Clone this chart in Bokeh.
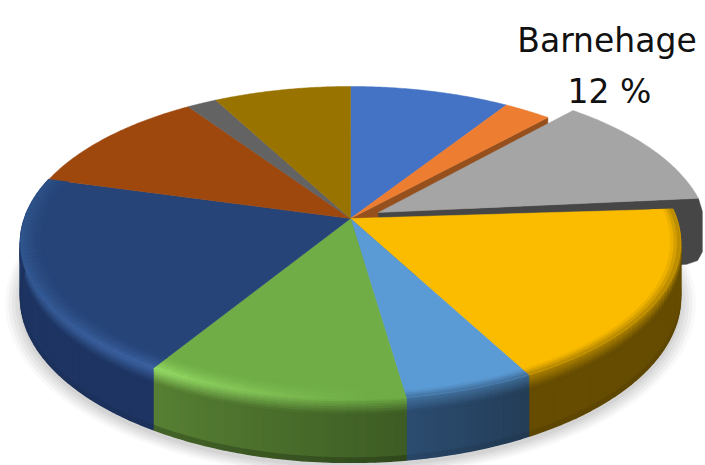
import numpy as np
from bokeh.plotting import figure
from bokeh.models import Range1d
from bokeh.embed import file_html
from bokeh.resources import INLINE
from bokeh.core.properties import value

# Data (share of each slice, clockwise from 12 o'clock)
slice_shares = [9.1, 2.7, 12.2, 18.2, 5.5, 11.1, 20.5, 11.2, 1.7, 7.8]
slice_colors = ["#4472C4", "#ED7D31", "#A5A5A5", "#FBBC00", "#5B9BD5",
                "#70AD47", "#264478", "#9E480E", "#636363", "#997300"]
side_left = [None, "#96501e", "#464646", "#654C00", "#2B4C70",
             "#578033", "#1E3563", None, None, None]
side_right = [None, "#96501e", "#464646", "#654C00", "#243D57",
              "#3D5C24", "#1E3563", None, None, None]
highlight_near = [None, None, None, None, None, "#A0E86E", "#3E64A4", None, None, None]
highlight_far = [None, None, None, None, None, "#70AD47", "#2C5288", None, None, None]
label_name = "Barnehage"
label_share = 12
exploded = 2

# Projection of the tilted disc
XA, YA = 350.0, 218.0
R, H, C, D = 326.0, 152.7, 0.1565, 53.0
EX, EY = 28.0, -6.0
TURN_START, TURN_END = np.radians(-0.7), np.radians(-1.8)


def proj(theta, r=1.0, dz=0.0, ox=0.0, oy=0.0, k=1.0):
    u = r * np.sin(theta)
    v = r * np.cos(theta)
    s = 1.0 / (1.0 + C * v)
    return XA + ox + R * u * s, YA + oy - H * v * s + dz * k * D * s


def rgb(h):
    return np.array([int(h[i:i + 2], 16) for i in (1, 3, 5)], float)


def mix(a, b, t):
    t = float(np.clip(t, 0, 1))
    c = rgb(a) * (1 - t) + rgb(b) * t
    return "#%02x%02x%02x" % tuple(int(round(x)) for x in c)


edges = np.radians(np.concatenate([[0], np.cumsum(slice_shares)]) * 3.6 * 100 / sum(slice_shares))

p = figure(width=705, height=465, output_backend="svg", toolbar_location=None,
           x_range=Range1d(0, 705), y_range=Range1d(465, 0),
           min_border=0, outline_line_color=None)
p.axis.visible = False
p.grid.visible = False
p.background_fill_color = "white"
p.border_fill_color = "white"

# Soft shadow
full = np.linspace(0, 2 * np.pi, 181)
for g, a in zip([1.045, 1.035, 1.025, 1.015, 1.005], [0.05, 0.07, 0.08, 0.09, 0.1]):
    x, y = proj(full, g, 1.0)
    p.patch(x, y + 4, fill_color="#808080", fill_alpha=a, line_color=None)


def wall(theta, color, ox=0.0, oy=0.0, k=1.0, lean=0.0):
    pts = [proj(theta, 0.0, 0.0, ox, oy, k), proj(theta, 1.0, 0.0, ox, oy, k)]
    if lean:
        pts += [proj(theta, 1.0, 0.2, ox + lean, oy, k),
                proj(theta, 1.0, 0.82, ox + lean, oy, k),
                proj(theta, 0.985, 0.95, ox + lean, oy, k),
                proj(theta, 0.95, 1.0, ox + lean, oy, k)]
    else:
        pts.append(proj(theta, 1.0, 1.0, ox, oy, k))
    pts.append(proj(theta, 0.0, 1.0, ox, oy, k))
    p.patch([q[0] for q in pts], [q[1] for q in pts],
            fill_color=color, line_color=color, line_width=0.5)


def top(i, ox=0.0, oy=0.0, turn0=0.0, turn1=0.0):
    th = np.linspace(edges[i] + turn0, edges[i + 1] + turn1, 60)
    x, y = proj(th, 1.0, 0.0, ox, oy)
    a = proj(0.0, 0.0, 0.0, ox, oy)
    p.patch(np.r_[a[0], x], np.r_[a[1], y], fill_color=slice_colors[i],
            line_color=slice_colors[i], line_width=0.5)


def bevel_color(i, f, w):
    """Colour of the flat face's outer band; w=0 inner, w=1 at the rim."""
    side = mix(side_right[i], side_left[i], f)
    if highlight_near[i] is not None:
        if i == 5:
            hl = mix(slice_colors[i], highlight_near[i], max(0.0, f - 0.15) ** 1.1)
        else:
            hl = mix(highlight_far[i], highlight_near[i], (1 - f) ** 1.2)
        return mix(slice_colors[i], hl, w ** 1.5)
    return mix(slice_colors[i], side, max(0.0, (w - 0.55) / 0.9))


# The wall of the slice next to the pulled-out piece
wall(edges[exploded], side_left[1])

# Pulled-out slice
wall(edges[exploded + 1] + TURN_END, side_left[exploded], EX, EY, 1.25, lean=4.0)
top(exploded, EX, EY, TURN_START, TURN_END)

# Rim of the front slices
xs, ys, cs = [], [], []
ts = [0.0, 0.04, 0.08, 0.12, 0.16, 0.2, 0.24, 0.28, 0.93, 1.0]
for i in [3, 4, 5, 6]:
    n = max(3, int(np.degrees(edges[i + 1] - edges[i]) / 1.5))
    ang = np.linspace(edges[i], edges[i + 1], n + 1)
    for j in range(n):
        f = (j + 0.5) / n                    # 0 at clockwise start, 1 at end
        side = mix(side_right[i], side_left[i], f)
        start = bevel_color(i, f, 1.0)
        for t0, t1 in zip(ts[:-1], ts[1:]):
            tm = 0.5 * (t0 + t1)
            if tm > 0.93:
                col = mix(side, "#000000", 0.22 if i == 5 else 0.08)
            elif tm < 0.28:
                col = mix(start, side, tm / 0.24)
            else:
                col = side
            tt = np.linspace(ang[j], ang[j + 1], 3)
            xa, ya = proj(tt, 1.0, t0)
            xz, yz = proj(tt, 1.0, t1)
            xs.append(np.r_[xa, xz[::-1]])
            ys.append(np.r_[ya, yz[::-1]])
            cs.append(col)
p.patches(xs, ys, fill_color=cs, line_color=cs, line_width=1.5)

# Flat faces
for i in range(len(slice_shares)):
    if i != exploded:
        top(i)

# Bevel on the front part of the flat faces
xs, ys, cs = [], [], []
rs = np.linspace(0.93, 1.0, 8)
for i in [3, 4, 5, 6]:
    n = max(3, int(np.degrees(edges[i + 1] - edges[i]) / 1.5))
    ang = np.linspace(edges[i], edges[i + 1], n + 1)
    for j in range(n):
        f = (j + 0.5) / n
        for r0, r1 in zip(rs[:-1], rs[1:]):
            w = (0.5 * (r0 + r1) - 0.93) / 0.07
            tt = np.linspace(ang[j], ang[j + 1], 3)
            xa, ya = proj(tt, r0)
            xz, yz = proj(tt, r1)
            xs.append(np.r_[xa, xz[::-1]])
            ys.append(np.r_[ya, yz[::-1]])
            cs.append(bevel_color(i, f, w))
p.patches(xs, ys, fill_color=cs, line_color=cs, line_width=0.5)

# Data label
p.text([606.5], [40], text=[label_name], text_font=value("DejaVu Sans"), text_font_size="33px",
       text_color="#111111", text_align="center", text_baseline="alphabetic")
p.text([609], [91], text=[f"{label_share} %"], text_font=value("DejaVu Sans"), text_font_size="33px",
       text_color="#111111", text_align="center", text_baseline="alphabetic")

open("out.html", "w").write(file_html(p, INLINE))
